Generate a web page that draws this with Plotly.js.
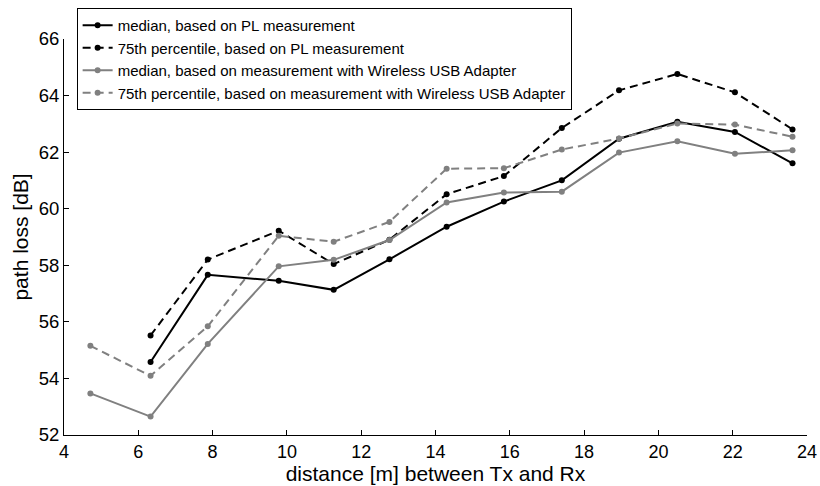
<!DOCTYPE html>
<html>
<head>
<meta charset="utf-8">
<script src="https://cdn.plot.ly/plotly-3.0.1.min.js"></script>
<style>html,body{margin:0;padding:0;background:#fff;}#chart{width:820px;height:486px;}</style>
</head>
<body>
<div id="chart"></div>
<script>
// distances [m]
var distPL = [6.33, 7.87, 9.78, 11.26, 12.76, 14.30, 15.84, 17.40, 18.94, 20.51, 22.06, 23.61];
var distUSB = [4.71, 6.33, 7.87, 9.78, 11.26, 12.76, 14.30, 15.84, 17.40, 18.94, 20.51, 22.06, 23.61];
// path loss [dB]
var medianPL = [54.58, 57.66, 57.45, 57.13, 58.21, 59.36, 60.25, 61.00, 62.47, 63.07, 62.71, 61.60];
var p75PL = [55.52, 58.20, 59.22, 58.04, 58.90, 60.51, 61.15, 62.85, 64.18, 64.76, 64.11, 62.80];
var medianUSB = [53.47, 52.65, 55.22, 57.96, 58.19, 58.89, 60.22, 60.57, 60.60, 61.98, 62.38, 61.94, 62.06];
var p75USB = [55.15, 54.09, 55.84, 59.04, 58.83, 59.53, 61.41, 61.43, 62.09, 62.48, 63.01, 62.97, 62.54];
var names = [
  "median, based on PL measurement",
  "75th percentile, based on PL measurement",
  "median, based on measurement with Wireless USB Adapter",
  "75th percentile, based on measurement with Wireless USB Adapter"
];
var black = "#000000", gray = "#808080";
function tr(x, y, name, color, dash) {
  return {x: x, y: y, name: name, type: "scatter", mode: "lines+markers",
    line: {color: color, width: 2, dash: dash},
    marker: {color: color, size: 6, symbol: "circle"}};
}
var data = [
  tr(distPL, medianPL, names[0], black, "solid"),
  tr(distPL, p75PL, names[1], black, "8px,5px"),
  tr(distUSB, medianUSB, names[2], gray, "solid"),
  tr(distUSB, p75USB, names[3], gray, "8px,5px")
];
var font = "Liberation Sans, Arial, Helvetica, sans-serif";
var layout = {
  width: 820, height: 486,
  margin: {l: 64, r: 13, t: 8, b: 49},
  paper_bgcolor: "#fff", plot_bgcolor: "#fff",
  font: {family: font, color: "#000"},
  showlegend: true,
  legend: {x: 0.017, y: 1, xanchor: "left", yanchor: "top",
    bgcolor: "#fff", bordercolor: "#000", borderwidth: 1,
    font: {family: font, size: 15, color: "#000"}, tracegroupgap: 0},
  xaxis: {range: [4, 24], tickvals: [4,6,8,10,12,14,16,18,20,22,24], automargin: "bottom",
    ticks: "inside", ticklen: 5, tickcolor: "#000", showline: true, linecolor: "#000", linewidth: 1,
    showgrid: false, zeroline: false, tickfont: {size: 18, family: font},
    title: {text: "distance [m] between Tx and Rx", font: {size: 21, family: font}, standoff: 2}},
  yaxis: {range: [52, 66], domain: [0, 0.9277], tickvals: [52,54,56,58,60,62,64,66], automargin: false,
    ticks: "inside", ticklen: 5, tickcolor: "#000", showline: true, linecolor: "#000", linewidth: 1,
    showgrid: false, zeroline: false, tickfont: {size: 18.5, family: font},
    title: {text: "path loss [dB]", font: {size: 21, family: font}, standoff: 4}}
};
Plotly.newPlot("chart", data, layout, {displayModeBar: false, staticPlot: true});
</script>
</body>
</html>
